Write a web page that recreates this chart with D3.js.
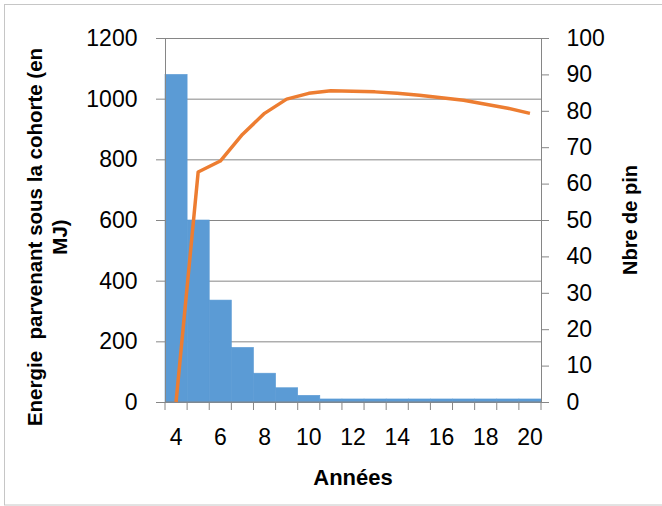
<!DOCTYPE html>
<meta charset="utf-8">
<style>
    body { margin: 0; background: #fff; }
    svg { font-family: "Liberation Sans", Arial, sans-serif; }
    .tick text { font-size: 23px; fill: #000; }
    .axis path, .axis line { stroke: #868686; }
    .grid line { stroke: #868686; }
    .grid path { display: none; }
    .title { font-weight: bold; fill: #000; white-space: pre; }
</style>
<body></body>
<script src="https://cdn.jsdelivr.net/npm/d3@7"></script>
<script>
    // categories (years) and the two series
    var annees = [4, 5, 6, 7, 8, 9, 10, 11, 12, 13, 14, 15, 16, 17, 18, 19, 20];
    var energie = [1080, 600, 336, 180, 95, 47, 22, 10, 10, 10, 10, 10, 10, 10, 10, 10, 10];
    var nbrePin = [0, 63.2, 66.2, 73.5, 79.3, 83.2, 84.8, 85.5, 85.4, 85.2, 84.8, 84.3, 83.6, 82.9, 81.8, 80.7, 79.3];
    var leftTicks = [0, 200, 400, 600, 800, 1000, 1200];
    var rightTicks = [0, 10, 20, 30, 40, 50, 60, 70, 80, 90, 100];
    var xLabels = [4, 6, 8, 10, 12, 14, 16, 18, 20];

    var W = 662, H = 506;
    var plot = {left: 165, right: 541, top: 38, bottom: 402};

    var svg = d3.select("body").append("svg")
        .attr("width", W)
        .attr("height", H);

    // chart border
    svg.append("rect")
        .attr("x", 4.5).attr("y", 4.5)
        .attr("width", W).attr("height", 500.5)
        .attr("fill", "none")
        .attr("stroke", "#c6c6c6");

    var x = d3.scaleBand()
        .domain(annees)
        .range([plot.left, plot.right])
        .padding(0);

    var yLeft = d3.scaleLinear()
        .domain([0, 1200])
        .range([plot.bottom, plot.top]);

    var yRight = d3.scaleLinear()
        .domain([0, 100])
        .range([plot.bottom, plot.top]);

    // horizontal gridlines
    svg.append("g")
        .attr("class", "grid")
        .attr("transform", "translate(" + plot.left + ",0)")
        .call(d3.axisLeft(yLeft).tickValues(leftTicks).tickSize(-(plot.right - plot.left)).tickFormat(""));

    // bars (thin stroke of the same colour hides the seams between bars)
    svg.selectAll(".bar")
        .data(annees)
        .enter().append("rect")
        .attr("class", "bar")
        .attr("x", function(d) { return x(d); })
        .attr("width", x.bandwidth())
        .attr("y", function(d, i) { return yLeft(energie[i]); })
        .attr("height", function(d, i) { return plot.bottom - yLeft(energie[i]); })
        .attr("fill", "#5B9BD5")
        .attr("stroke", "#5B9BD5")
        .attr("stroke-width", 0.6);

    // left axis
    svg.append("g")
        .attr("class", "axis")
        .attr("transform", "translate(" + plot.left + ",0)")
        .call(d3.axisLeft(yLeft).tickValues(leftTicks).tickFormat(d3.format("d"))
            .tickSize(9).tickSizeOuter(0).tickPadding(18.5));

    // right axis
    svg.append("g")
        .attr("class", "axis")
        .attr("transform", "translate(" + plot.right + ",0)")
        .call(d3.axisRight(yRight).tickValues(rightTicks).tickSize(8).tickSizeOuter(0).tickPadding(17.5));

    // x axis: tick marks at category boundaries, labels at centres
    var bounds = annees.map(function(d) { return x(d); }).concat([plot.right]);
    var xAxis = svg.append("g").attr("class", "axis");
    xAxis.append("line")
        .attr("x1", plot.left).attr("x2", plot.right)
        .attr("y1", plot.bottom).attr("y2", plot.bottom);
    xAxis.selectAll(".xt")
        .data(bounds)
        .enter().append("line")
        .attr("class", "xt")
        .attr("x1", function(d) { return d; }).attr("x2", function(d) { return d; })
        .attr("y1", plot.bottom).attr("y2", plot.bottom + 8);

    svg.append("g")
        .attr("class", "axis xlab")
        .attr("transform", "translate(0," + plot.bottom + ")")
        .call(d3.axisBottom(x).tickValues(xLabels).tickSize(0).tickPadding(27))
        .select(".domain").remove();

    // line series
    var line = d3.line()
        .x(function(d, i) { return x(annees[i]) + x.bandwidth() / 2; })
        .y(function(d) { return yRight(d); });

    svg.append("path")
        .datum(nbrePin)
        .attr("d", line)
        .attr("fill", "none")
        .attr("stroke", "#ED7D31")
        .attr("stroke-width", 3.5)
        .attr("stroke-linejoin", "round");

    // axis titles
    svg.append("text")
        .attr("class", "title")
        .attr("x", (plot.left + plot.right) / 2)
        .attr("y", 485)
        .attr("text-anchor", "middle")
        .style("font-size", "22px")
        .text("Années");

    svg.append("text")
        .attr("class", "title")
        .attr("transform", "translate(637,220) rotate(-90)")
        .attr("text-anchor", "middle")
        .style("font-size", "20px")
        .text("Nbre de pin");

    svg.append("text")
        .attr("class", "title")
        .attr("transform", "translate(42,237) rotate(-90)")
        .attr("text-anchor", "middle")
        .style("font-size", "20.5px")
        .text("Energie  parvenant sous la cohorte (en");

    svg.append("text")
        .attr("class", "title")
        .attr("transform", "translate(67,237) rotate(-90)")
        .attr("text-anchor", "middle")
        .style("font-size", "20.5px")
        .text("MJ)");
</script>
